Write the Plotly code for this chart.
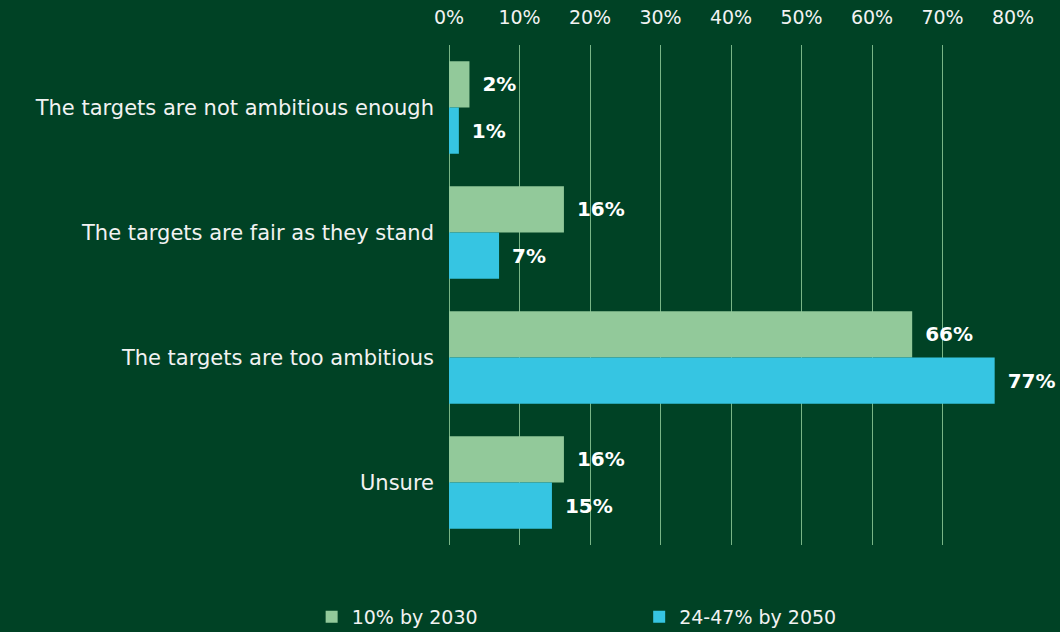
import plotly.graph_objects as go

_PALETTE = {
    "bg":    "#004225",
    "green": "#92C99A",
    "blue":  "#36C5E2",
    "grid":  "#79B586",
    "text":  "#F2F2F2",
}

categories = [
    "The targets are not ambitious enough",
    "The targets are fair as they stand",
    "The targets are too ambitious",
    "Unsure",
]
series_2030 = [2.9, 16.3, 65.7, 16.3]
labels_2030 = ["2%", "16%", "66%", "16%"]
series_2050 = [1.4, 7.1, 77.4, 14.6]
labels_2050 = ["1%", "7%", "77%", "15%"]
x_ticks = [0, 10, 20, 30, 40, 50, 60, 70, 80]
x_tick_text = [f"{t}%" for t in x_ticks]

fig = go.Figure()
for name, vals, labels, color, leg in [
    ("10% by 2030", series_2030, labels_2030, _PALETTE["green"], "legend"),
    ("24-47% by 2050", series_2050, labels_2050, _PALETTE["blue"], "legend2"),
]:
    fig.add_trace(go.Bar(
        y=categories, x=vals, name=name, orientation="h", legend=leg,
        marker=dict(color=color, line=dict(width=0)),
        text=labels, texttemplate="\u2002%{text}",
        textposition="outside", cliponaxis=False,
        textfont=dict(family="DejaVu Sans", size=20, color="white", weight="bold"),
    ))

_LEGEND = dict(
    orientation="h", xref="container", yref="container",
    y=0.024, xanchor="left", yanchor="middle",
    font=dict(size=19, color=_PALETTE["text"]),
    bgcolor="rgba(0,0,0,0)",
)

fig.update_layout(
    width=1060, height=632,
    paper_bgcolor=_PALETTE["bg"],
    plot_bgcolor=_PALETTE["bg"],
    font=dict(family="DejaVu Sans", size=20, color=_PALETTE["text"]),
    margin=dict(l=449, r=47, t=45, b=87),
    barmode="group",
    bargap=0.26,
    bargroupgap=0,
    showlegend=True,
    legend={**_LEGEND, "x": 0.294},
    legend2={**_LEGEND, "x": 0.603},
    xaxis=dict(
        side="top", range=[0, 80], tickvals=x_ticks, ticktext=x_tick_text,
        showgrid=True, gridcolor=_PALETTE["grid"], gridwidth=1,
        zeroline=True, zerolinecolor=_PALETTE["grid"], zerolinewidth=1,
        showline=False, ticks="", automargin=False,
        ticklabelstandoff=16,
        tickfont=dict(size=19, color=_PALETTE["text"]),
    ),
    yaxis=dict(
        autorange="reversed", showgrid=False, zeroline=False, showline=False,
        ticks="", ticklabelstandoff=14, automargin=False,
        tickfont=dict(size=21, color=_PALETTE["text"]),
    ),
)

fig.write_html("out.html", config={"displayModeBar": False},
               post_script="document.body.style.margin='0';")
